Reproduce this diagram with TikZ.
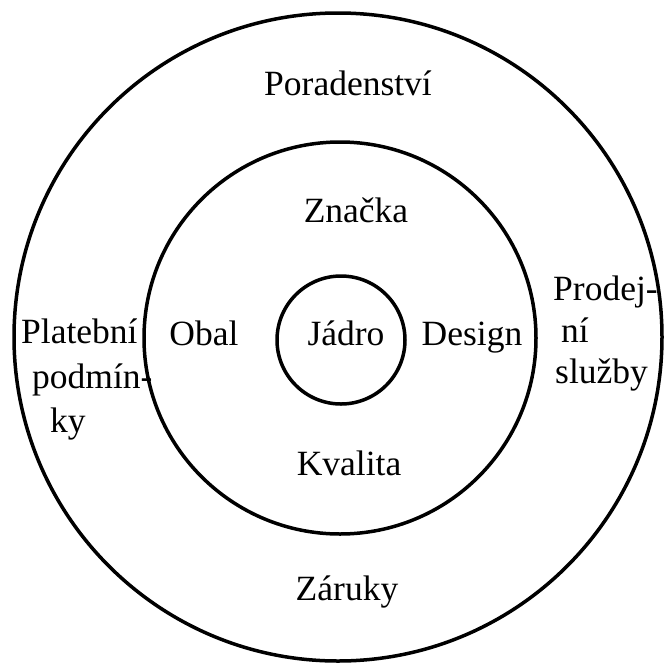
\documentclass[tikz,border=0pt]{standalone}
\usepackage{fontspec}
\setmainfont{Liberation Serif}
\begin{document}
\begin{tikzpicture}[x=1pt,y=-1pt,
  ring/.style={draw=black,line width=3.5pt,circle,inner sep=0pt},
  lbl/.style={font=\fontsize{35.5}{40}\selectfont,inner sep=0pt,text=black}]
\useasboundingbox (0,0) rectangle (664,662);
\node[ring,minimum size=648pt] (outer) at (338,337) {};
\node[ring,minimum size=392pt] (middle) at (340,338) {};
\node[ring,minimum size=128pt] (inner) at (341,340) {};
\node[lbl,anchor=base] (porad) at (348,95) {Poradenství};
\node[lbl,anchor=base] (znacka) at (356,222) {Značka};
\node[lbl,anchor=base] (obal) at (204,345) {Obal};
\node[lbl,anchor=base] (jadro) at (346,345) {Jádro};
\node[lbl,anchor=base] (design) at (472,345) {Design};
\node[lbl,anchor=base] (kvalita) at (349,475) {Kvalita};
\node[lbl,anchor=base] (zaruky) at (347,600) {Záruky};
\node[lbl,anchor=base west] (plat1) at (21,343) {Platební};
\node[lbl,anchor=base west] (plat2) at (32,388) {podmín-};
\node[lbl,anchor=base west] (plat3) at (50,432) {ky};
\node[lbl,anchor=base west] (prod1) at (553,300) {Prodej-};
\node[lbl,anchor=base west] (prod2) at (561,342) {ní};
\node[lbl,anchor=base west] (prod3) at (555,383) {služby};
\end{tikzpicture}
\end{document}
